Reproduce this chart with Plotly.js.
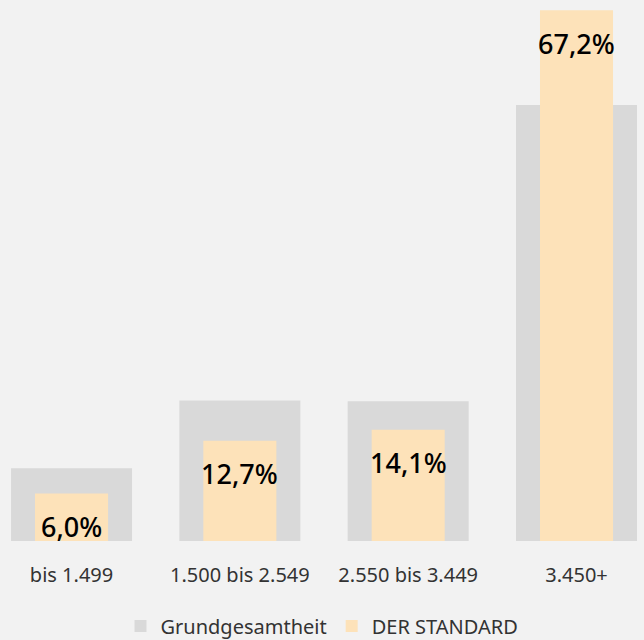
<!DOCTYPE html>
<html>
<head>
<meta charset="utf-8">
<script src="https://cdn.plot.ly/plotly-3.0.1.min.js"></script>
<style>html,body{margin:0;padding:0;background:#f2f2f2;}#chart{width:644px;height:640px;}</style>
</head>
<body>
<div id="chart"></div>
<script>
const categories = ["bis 1.499", "1.500 bis 2.549", "2.550 bis 3.449", "3.450+"];
const grundgesamtheit = [9.2, 17.8, 17.7, 55.2];
const derStandard = [6.0, 12.7, 14.1, 67.2];
const seriesNames = ["Grundgesamtheit", "DER STANDARD"];

const idx = categories.map((c, i) => i);
const fmt = v => v.toFixed(1).replace('.', ',') + '%';

const traces = [
  {
    type: 'bar', x: idx, y: grundgesamtheit, name: seriesNames[0],
    width: 0.719, marker: {color: '#d9d9d9'}, hoverinfo: 'skip'
  },
  {
    type: 'bar', x: idx, y: derStandard, name: seriesNames[1],
    width: 0.434, marker: {color: '#fde2b9'}, hoverinfo: 'skip'
  }
];

const annotations = derStandard.map((v, i) => ({
  x: i, y: v, xref: 'x', yref: 'y', text: fmt(v), showarrow: false,
  yanchor: 'middle', yshift: -33,
  font: {family: 'Noto Sans, sans-serif', size: 27, color: '#000', weight: 500}
}));

const layout = {
  width: 644, height: 640,
  margin: {l: 0, r: 0, t: 0, b: 99},
  paper_bgcolor: '#f2f2f2', plot_bgcolor: '#f2f2f2',
  barmode: 'overlay',
  font: {family: 'Noto Sans, sans-serif', color: '#333333'},
  xaxis: {
    range: [-0.425, 3.401], tickvals: idx, ticktext: categories,
    showgrid: false, zeroline: false, showline: false, automargin: false,
    ticks: 'outside', ticklen: 16, tickcolor: 'rgba(0,0,0,0)',
    tickfont: {size: 20, color: '#333333'}, fixedrange: true
  },
  yaxis: {
    range: [0, 68.5], visible: false, showgrid: false, zeroline: false, fixedrange: true
  },
  showlegend: true,
  legend: {
    orientation: 'h', x: 0.5, xanchor: 'center', yref: 'container', y: 0.022, yanchor: 'middle',
    font: {size: 20, color: '#333333'}, bgcolor: 'rgba(0,0,0,0)',
    itemwidth: 30, tracegroupgap: 0
  },
  annotations: annotations
};

Plotly.newPlot('chart', traces, layout, {displayModeBar: false, staticPlot: true});
</script>
</body>
</html>
